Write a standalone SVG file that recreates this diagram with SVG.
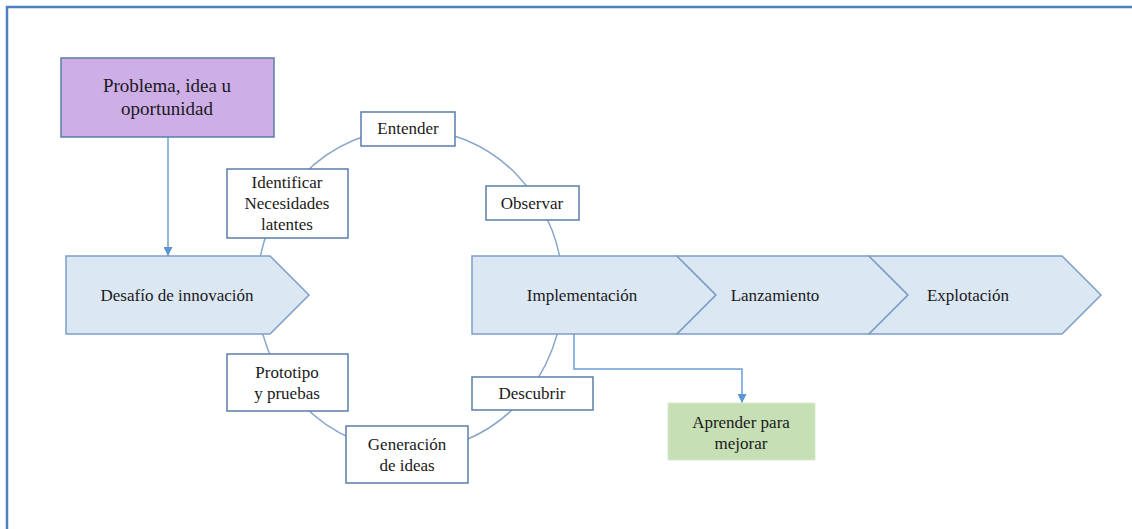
<svg xmlns="http://www.w3.org/2000/svg" width="1132" height="529" viewBox="0 0 1132 529">
  <style>
    text { font-family: "Liberation Serif", "Times New Roman", serif; font-size: 17px; fill: #1a1a1a; text-anchor: middle; }
    .box { fill: #ffffff; stroke: #5a7da8; stroke-width: 1.5; }
    .chev { fill: #dce7f4; stroke: #7d9ec6; stroke-width: 1.5; stroke-linejoin: miter; }
    .cycle { fill: none; stroke: #8aa6c8; stroke-width: 1.5; }
    .link { fill: none; stroke: #6a9fd6; stroke-width: 1.5; }
    .big { font-size: 19px; }
  </style>
  <defs>
    <marker id="arrow" viewBox="0 0 10 10" refX="10" refY="5" markerWidth="9" markerHeight="9" markerUnits="userSpaceOnUse" orient="auto">
      <path d="M0,0 L10,5 L0,10 z" fill="#5b96d3"/>
    </marker>
  </defs>
  <rect width="1132" height="529" fill="#ffffff"/>

  <!-- page frame (top and left edges) -->
  <path d="M7,529 V7 H1132" fill="none" stroke="#4f81bd" stroke-width="2.5"/>

  <!-- innovation cycle ring -->
  <ellipse class="cycle" cx="410" cy="290" rx="153" ry="161"/>

  <g id="connectors">
    <line class="link" x1="168" y1="137" x2="168" y2="256" marker-end="url(#arrow)"/>
    <path class="link" d="M574,334 V369 H742 V403" marker-end="url(#arrow)"/>
  </g>

  <g id="problema">
    <rect x="61" y="58" width="213" height="79" fill="#cdaee6" stroke="#5a7da8" stroke-width="1.5"/>
    <text class="big" x="167" y="92">Problema, idea u</text>
    <text class="big" x="167" y="115">oportunidad</text>
  </g>

  <g id="desafio">
    <path class="chev" d="M66,256 H270 L309,295 L270,334 H66 Z"/>
    <text x="177" y="301">Desafío de innovación</text>
  </g>

  <g id="implementacion">
    <path class="chev" d="M472,256 H677 L716,295 L677,334 H472 Z"/>
    <text x="582" y="301">Implementación</text>
  </g>

  <g id="lanzamiento">
    <path class="chev" d="M677,256 H869 L908,295 L869,334 H677 L716,295 Z"/>
    <text x="775" y="301">Lanzamiento</text>
  </g>

  <g id="explotacion">
    <path class="chev" d="M869,256 H1062 L1101,295 L1062,334 H869 L908,295 Z"/>
    <text x="968" y="301">Explotación</text>
  </g>

  <g id="entender">
    <rect class="box" x="361" y="112" width="94" height="34"/>
    <text x="408" y="134">Entender</text>
  </g>

  <g id="observar">
    <rect class="box" x="486" y="186" width="93" height="34"/>
    <text x="532" y="209">Observar</text>
  </g>

  <g id="identificar">
    <rect class="box" x="227" y="169" width="121" height="69"/>
    <text x="287" y="188">Identificar</text>
    <text x="287" y="209">Necesidades</text>
    <text x="287" y="230">latentes</text>
  </g>

  <g id="prototipo">
    <rect class="box" x="227" y="354" width="121" height="57"/>
    <text x="287" y="378">Prototipo</text>
    <text x="287" y="399">y pruebas</text>
  </g>

  <g id="descubrir">
    <rect class="box" x="472" y="377" width="121" height="33"/>
    <text x="532" y="399">Descubrir</text>
  </g>

  <g id="generacion">
    <rect class="box" x="346" y="426" width="122" height="57"/>
    <text x="407" y="450">Generación</text>
    <text x="407" y="471">de ideas</text>
  </g>

  <g id="aprender">
    <rect x="668" y="403" width="147" height="57" fill="#c6dfb4" stroke="#d9ead0" stroke-width="1"/>
    <text x="741" y="428">Aprender para</text>
    <text x="741" y="449">mejorar</text>
  </g>
</svg>
